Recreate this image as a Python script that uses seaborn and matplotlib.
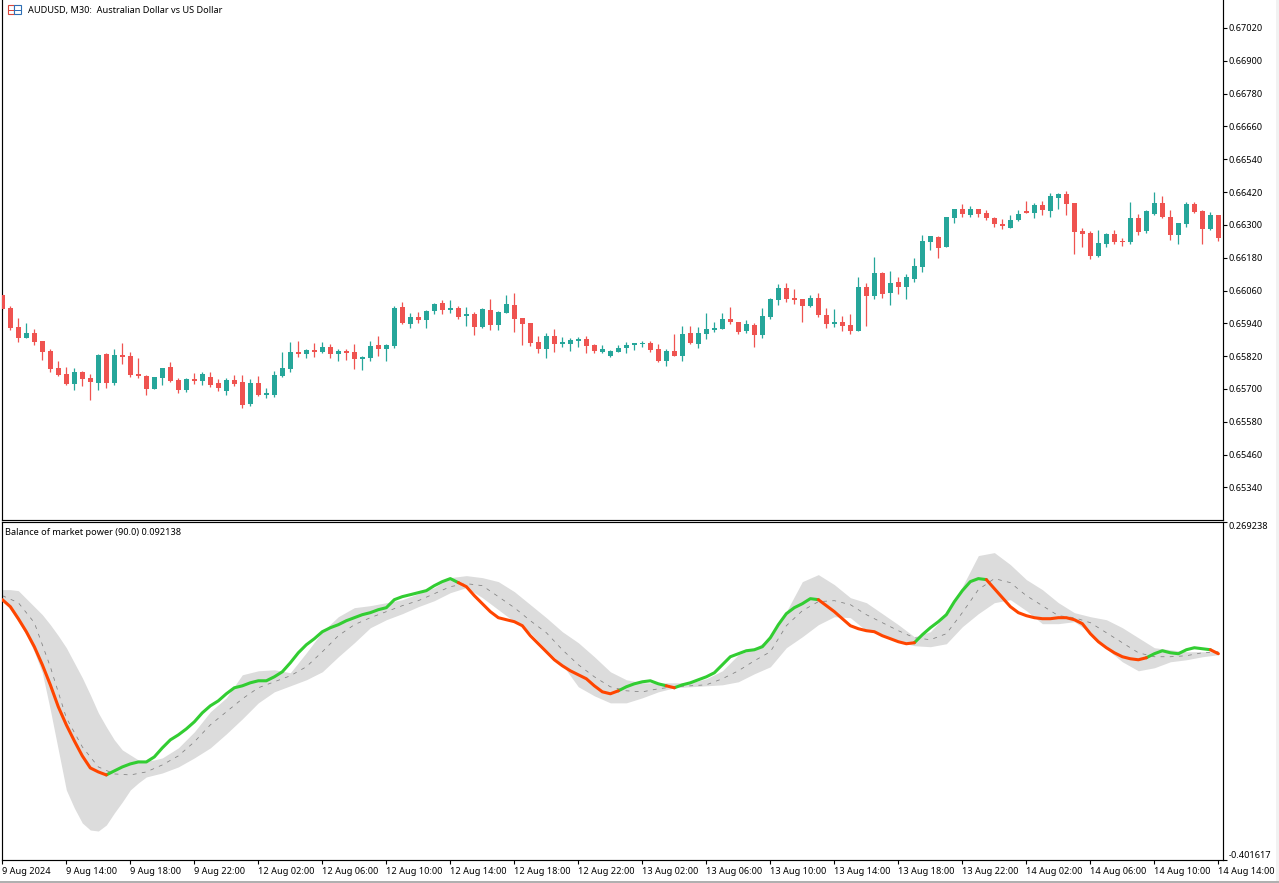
import numpy as np
import matplotlib
matplotlib.use("Agg")
import matplotlib.pyplot as plt
from matplotlib.patches import Rectangle
import seaborn as sns

# AUDUSD M30 prices in points (1e-5)
open_pts = [
    66043, 65996, 65926, 65886, 65904, 65875, 65838, 65776, 65754, 65717,
    65761, 65739, 65721, 65827, 65721, 65823, 65820, 65754, 65747, 65699,
    65739, 65780, 65732, 65695, 65736, 65728, 65743, 65721, 65692, 65732,
    65725, 65644, 65721, 65677, 65677, 65747, 65772, 65834, 65827, 65842,
    65834, 65853, 65827, 65838, 65834, 65809, 65813, 65860, 65845, 65856,
    65999, 65937, 65963, 65952, 65985, 66014, 65988, 65996, 65966, 65974,
    65926, 65988, 65933, 65977, 66006, 65959, 65941, 65871, 65845, 65893,
    65864, 65864, 65875, 65882, 65860, 65834, 65820, 65834, 65849, 65860,
    65864, 65867, 65845, 65802, 65838, 65820, 65904, 65864, 65900, 65915,
    65919, 65955, 65944, 65911, 65933, 65897, 65963, 66025, 66069, 66032,
    66028, 66003, 66032, 65970, 65937, 65944, 65933, 65911, 66072, 66039,
    66124, 66050, 66091, 66072, 66102, 66146, 66237, 66255, 66219, 66325,
    66358, 66336, 66358, 66343, 66325, 66303, 66288, 66318, 66351, 66343,
    66372, 66351, 66398, 66413, 66380, 66277, 66270, 66186, 66230, 66266,
    66241, 66237, 66325, 66277, 66340, 66380, 66329, 66263, 66303, 66376,
    66351, 66285, 66336,
]
close_pts = [
    65992, 65922, 65886, 65904, 65871, 65834, 65772, 65750, 65717, 65761,
    65736, 65725, 65823, 65721, 65823, 65816, 65750, 65747, 65699, 65743,
    65776, 65728, 65695, 65736, 65728, 65754, 65714, 65703, 65732, 65717,
    65640, 65721, 65677, 65684, 65750, 65776, 65834, 65827, 65842, 65834,
    65853, 65827, 65838, 65831, 65809, 65816, 65856, 65845, 65860, 65996,
    65941, 65963, 65952, 65985, 66010, 65988, 65996, 65963, 65974, 65926,
    65992, 65933, 65981, 66010, 65955, 65937, 65867, 65845, 65893, 65864,
    65871, 65878, 65882, 65856, 65838, 65845, 65838, 65849, 65860, 65867,
    65867, 65842, 65802, 65838, 65820, 65900, 65867, 65904, 65919, 65922,
    65955, 65944, 65908, 65937, 65897, 65966, 66028, 66069, 66028, 66025,
    66003, 66032, 65970, 65937, 65944, 65930, 65911, 66072, 66039, 66124,
    66047, 66087, 66072, 66109, 66149, 66241, 66259, 66215, 66329, 66358,
    66340, 66358, 66340, 66325, 66303, 66296, 66318, 66340, 66343, 66372,
    66354, 66405, 66413, 66376, 66274, 66266, 66186, 66233, 66266, 66237,
    66237, 66325, 66274, 66351, 66380, 66329, 66263, 66307, 66376, 66347,
    66285, 66336, 66252,
]
high_pts = [
    66047, 66003, 65959, 65941, 65919, 65875, 65845, 65802, 65780, 65776,
    65765, 65754, 65827, 65831, 65845, 65867, 65834, 65813, 65750, 65743,
    65776, 65798, 65739, 65739, 65758, 65761, 65761, 65736, 65739, 65750,
    65750, 65736, 65747, 65703, 65765, 65834, 65871, 65875, 65845, 65867,
    65871, 65864, 65845, 65845, 65864, 65820, 65875, 65893, 65864, 66003,
    66017, 65977, 65981, 65988, 66014, 66025, 66025, 66003, 65999, 65981,
    65996, 66028, 65985, 66043, 66050, 65959, 65941, 65893, 65904, 65919,
    65889, 65886, 65889, 65893, 65864, 65860, 65842, 65860, 65871, 65867,
    65875, 65875, 65864, 65845, 65900, 65930, 65930, 65926, 65977, 65944,
    65977, 65999, 65944, 65952, 65941, 65996, 66032, 66083, 66087, 66065,
    66028, 66043, 66050, 65996, 65992, 65966, 65974, 66109, 66087, 66182,
    66127, 66131, 66109, 66120, 66179, 66263, 66259, 66259, 66329, 66358,
    66376, 66369, 66358, 66354, 66329, 66321, 66336, 66354, 66387, 66380,
    66387, 66416, 66416, 66424, 66380, 66288, 66277, 66281, 66270, 66281,
    66252, 66383, 66340, 66354, 66420, 66405, 66354, 66307, 66383, 66383,
    66354, 66347, 66336,
]
low_pts = [
    65988, 65915, 65871, 65886, 65860, 65805, 65761, 65747, 65714, 65695,
    65710, 65659, 65695, 65703, 65714, 65791, 65743, 65739, 65677, 65699,
    65714, 65725, 65684, 65688, 65717, 65714, 65706, 65692, 65677, 65710,
    65630, 65637, 65673, 65666, 65670, 65743, 65761, 65816, 65813, 65816,
    65831, 65813, 65802, 65805, 65772, 65769, 65802, 65820, 65802, 65849,
    65937, 65922, 65941, 65922, 65974, 65974, 65977, 65955, 65930, 65897,
    65922, 65915, 65915, 65977, 65908, 65860, 65856, 65831, 65813, 65834,
    65853, 65838, 65853, 65831, 65831, 65831, 65816, 65834, 65831, 65842,
    65853, 65834, 65798, 65783, 65820, 65802, 65864, 65849, 65882, 65908,
    65919, 65937, 65900, 65904, 65853, 65886, 65955, 66006, 66017, 66010,
    65944, 65999, 65963, 65922, 65926, 65911, 65900, 65911, 65930, 66028,
    66032, 66006, 66047, 66028, 66091, 66127, 66208, 66179, 66219, 66307,
    66329, 66329, 66329, 66318, 66292, 66285, 66288, 66314, 66343, 66325,
    66336, 66329, 66358, 66336, 66193, 66219, 66175, 66182, 66219, 66230,
    66222, 66230, 66263, 66270, 66336, 66325, 66244, 66230, 66292, 66343,
    66230, 66281, 66241,
]

# Balance of market power, one value per bar
power = [
    .1151, .1012, .0773, .0515, .0217, -.0141, -.0539, -.0976, -.1334, -.1652,
    -.1950, -.2189, -.2268, -.2328, -.2248, -.2169, -.2109, -.2070, -.2070, -.1970,
    -.1791, -.1632, -.1533, -.1414, -.1274, -.1095, -.0956, -.0857, -.0717, -.0598,
    -.0559, -.0499, -.0459, -.0459, -.0380, -.0280, -.0102, .0097, .0256, .0376,
    .0515, .0594, .0654, .0733, .0793, .0853, .0893, .0952, .0992, .1151,
    .1211, .1250, .1290, .1330, .1429, .1509, .1569, .1489, .1409, .1230,
    .1071, .0913, .0793, .0753, .0714, .0634, .0435, .0276, .0117, -.0042,
    -.0161, -.0261, -.0340, -.0419, -.0559, -.0678, -.0717, -.0658, -.0578, -.0519,
    -.0479, -.0459, -.0519, -.0559, -.0598, -.0539, -.0499, -.0439, -.0380, -.0300,
    -.0141, .0018, .0078, .0137, .0157, .0217, .0395, .0654, .0873, .0992,
    .1071, .1171, .1151, .1032, .0913, .0773, .0634, .0574, .0535, .0515,
    .0435, .0376, .0316, .0276, .0296, .0455, .0594, .0714, .0853, .1111,
    .1330, .1509, .1569, .1549, .1370, .1191, .1012, .0893, .0833, .0793,
    .0773, .0773, .0793, .0793, .0753, .0674, .0475, .0316, .0197, .0097,
    .0018, -.0022, -.0042, -.0002, .0078, .0137, .0097, .0078, .0157, .0197,
    .0177, .0157, .0078,
]
falling_spans = [(0, 13), (57, 77), (83, 84), (102, 114), (123, 143), (151, 152)]

# Signal line, every second bar
signal_bars = list(range(0, 153, 2))
signal = [
    .1230, .1091, .0694, -.0181, -.1195, -.1771, -.2169, -.2308, -.2328, -.2268,
    -.2129, -.1950, -.1672, -.1334, -.1076, -.0817, -.0598, -.0479, -.0360, -.0181,
    .0117, .0435, .0654, .0793, .0913, .1032, .1131, .1270, .1409, .1469,
    .1429, .1211, .0992, .0733, .0495, .0157, -.0141, -.0380, -.0578, -.0658,
    -.0678, -.0618, -.0578, -.0559, -.0539, -.0419, -.0261, -.0062, .0117, .0634,
    .0932, .1111, .1131, .1052, .0853, .0694, .0535, .0395, .0356, .0475,
    .0893, .1350, .1569, .1489, .1230, .1032, .0833, .0793, .0694, .0495,
    .0296, .0097, .0018, .0018, .0038, .0097, .0117,
]

# Envelope around the signal
band_bars = list(range(0, 21)) + list(range(22, 153, 2))
band_upper = [
    .1350, .1350, .1330, .1171, .1012, .0853, .0654, .0435, .0197, -.0102,
    -.0400, -.0737, -.1095, -.1374, -.1632, -.1831, -.1931, -.2030, -.2050, -.2030,
    -.1990,
    -.1791, -.1473, -.1075, -.0797, -.0340, -.0261, -.0241, -.0300, .0097, .0515,
    .0813, .0992, .1032, .1091, .1151, .1270, .1390, .1588, .1628, .1588,
    .1509, .1310, .1052, .0793, .0515, .0296, .0018, -.0280, -.0439, -.0499,
    -.0499, -.0499, -.0499, -.0419, -.0261, .0058, .0177, .0395, .0913, .1509,
    .1648, .1449, .1191, .1091, .0873, .0654, .0415, .0515, .0853, .1409,
    .2026, .2085, .1847, .1549, .1350, .1091, .0893, .0813, .0753, .0594,
    .0395, .0197, .0157, .0117, .0117, .0117,
]
band_lower = [
    .1151, .0952, .0714, .0455, .0117, -.0300, -.1036, -.1831, -.2626, -.2984,
    -.3282, -.3421, -.3441, -.3322, -.3083, -.2864, -.2626, -.2487, -.2368, -.2328,
    -.2289,
    -.2169, -.1990, -.1791, -.1513, -.1215, -.0897, -.0678, -.0559, -.0439, -.0280,
    .0018, .0296, .0594, .0753, .0873, .1012, .1131, .1290, .1390, .1191,
    .0952, .0714, .0495, .0157, -.0141, -.0578, -.0758, -.0897, -.0897, -.0797,
    -.0678, -.0598, -.0578, -.0559, -.0539, -.0479, -.0320, -.0181, .0197, .0415,
    .0654, .0813, .0793, .0535, .0455, .0316, .0237, .0217, .0276, .0614,
    .0873, .1091, .1151, .0932, .0674, .0674, .0714, .0495, .0177, -.0082,
    -.0261, -.0201, -.0082, -.0042, .0018, .0058,
]

price_ticks = [0.67020, 0.66900, 0.66780, 0.66660, 0.66540, 0.66420, 0.66300, 0.66180,
               0.66060, 0.65940, 0.65820, 0.65700, 0.65580, 0.65460, 0.65340]
power_ticks = [0.269238, -0.401617]
time_labels = [
    "9 Aug 2024", "9 Aug 14:00", "9 Aug 18:00", "9 Aug 22:00", "12 Aug 02:00",
    "12 Aug 06:00", "12 Aug 10:00", "12 Aug 14:00", "12 Aug 18:00", "12 Aug 22:00",
    "13 Aug 02:00", "13 Aug 06:00", "13 Aug 10:00", "13 Aug 14:00", "13 Aug 18:00",
    "13 Aug 22:00", "14 Aug 02:00", "14 Aug 06:00", "14 Aug 10:00", "14 Aug 14:00",
]

UP = "#26A69A"
DOWN = "#EF5350"
RISE = "#32CD32"
FALL = "#FF4500"
BAND = "#DCDCDC"
FONT = 6.6

sns.set_theme(style="white")
plt.rcParams["font.family"] = ["Noto Sans", "DejaVu Sans"]

W, H = 1279, 883
fig = plt.figure(figsize=(W / 100, H / 100), dpi=100, facecolor="white")


def pane(left, top, right, bottom):
    return fig.add_axes([left / W, 1 - bottom / H, (right - left) / W, (bottom - top) / H])


ax_price = pane(2.0, -1, 1223.0, 520)
ax_power = pane(2.0, 522.0, 1223.0, 860)
bars = np.arange(len(open_pts))
xlim = (-0.04, 152.58)

# Candlesticks
o, c = np.array(open_pts) / 1e5, np.array(close_pts) / 1e5
hi, lo = np.array(high_pts) / 1e5, np.array(low_pts) / 1e5
colors = [UP if b >= a else DOWN for a, b in zip(o, c)]
ax_price.vlines(bars, lo, hi, colors=colors, linewidth=0.9, zorder=2)
ax_price.bar(bars, np.maximum(np.abs(c - o), 4e-5), bottom=np.minimum(o, c),
             width=0.62, color=colors, linewidth=0, zorder=3)
ax_price.set_ylim(0.65221, 0.67126)
ax_price.set_xlim(*xlim)
ax_price.set_yticks(price_ticks)
ax_price.set_yticklabels([f"{t:.5f}" for t in price_ticks])
ax_price.set_xticks([])

# Indicator pane
ax_power.fill_between(band_bars, band_lower, band_upper, color=BAND, linewidth=0, zorder=1)
sns.lineplot(x=signal_bars, y=signal, ax=ax_power, color="#808080", linewidth=0.55,
             linestyle=(0, (5, 7)), zorder=2, errorbar=None)

power_arr = np.array(power)
cursor = 0
for start, stop in falling_spans:
    if start > cursor:
        sns.lineplot(x=bars[cursor:start + 1], y=power_arr[cursor:start + 1], ax=ax_power,
                     color=RISE, linewidth=2.2, zorder=3, errorbar=None)
    sns.lineplot(x=bars[start:stop + 1], y=power_arr[start:stop + 1], ax=ax_power,
                 color=FALL, linewidth=2.2, zorder=4, errorbar=None)
    cursor = stop

ax_power.set_xlim(*xlim)
ax_power.set_ylim(power_ticks[1], power_ticks[0])
ax_power.set_yticks(power_ticks)
ax_power.set_yticklabels([f"{t:.6f}" for t in power_ticks])
ax_power.set_xticks(bars[::8])
ax_power.set_xticklabels(time_labels, ha="left")

for ax in (ax_price, ax_power):
    ax.yaxis.tick_right()
    ax.tick_params(axis="y", length=3, width=0.8, pad=1.2, labelsize=FONT, colors="black", right=True)
    ax.tick_params(axis="x", length=3, width=0.8, pad=2.0, labelsize=FONT, colors="black", bottom=True)
    ax.set_facecolor("white")
    ax.set_xlabel("")
    ax.set_ylabel("")
    for spine in ax.spines.values():
        spine.set_color("black")
        spine.set_linewidth(0.85)
ax_price.spines["top"].set_visible(False)

# The two indicator scale labels sit inside the pane height
ax_power.yaxis.get_major_ticks()[0].label2.set_va("top")
ax_power.yaxis.get_major_ticks()[1].label2.set_va("bottom")

# Pane captions
fig.text(28 / W, 1 - 10.5 / H, "AUDUSD, M30:  Australian Dollar vs US Dollar",
         fontsize=FONT, color="black", va="center", ha="left")
fig.text(5 / W, 1 - 532.5 / H, "Balance of market power (90.0) 0.092138",
         fontsize=FONT, color="black", va="center", ha="left")


def px_rect(x, y, w, h, **kw):
    fig.add_artist(Rectangle((x / W, 1 - (y + h) / H), w / W, h / H,
                             transform=fig.transFigure, **kw))


# Symbol icon beside the caption
px_rect(7.5, 4.5, 6.5, 9, facecolor="white", edgecolor="#D9463C", linewidth=0.8)
px_rect(14.5, 4.5, 6.5, 9, facecolor="white", edgecolor="#2F6FB5", linewidth=0.8)
for row in (7.5, 10.5):
    px_rect(8, row, 5.5, 0.8, facecolor="#D9463C", edgecolor="none")
    px_rect(15, row, 5.5, 0.8, facecolor="#2F6FB5", edgecolor="none")

# Window edges
px_rect(1276, 0, 3, 883, facecolor="#F2F2F2", edgecolor="none")
px_rect(0, 880.5, 1279, 2.5, facecolor="#B0B0B0", edgecolor="none")

fig.savefig("out.png", dpi=100, facecolor="white")
